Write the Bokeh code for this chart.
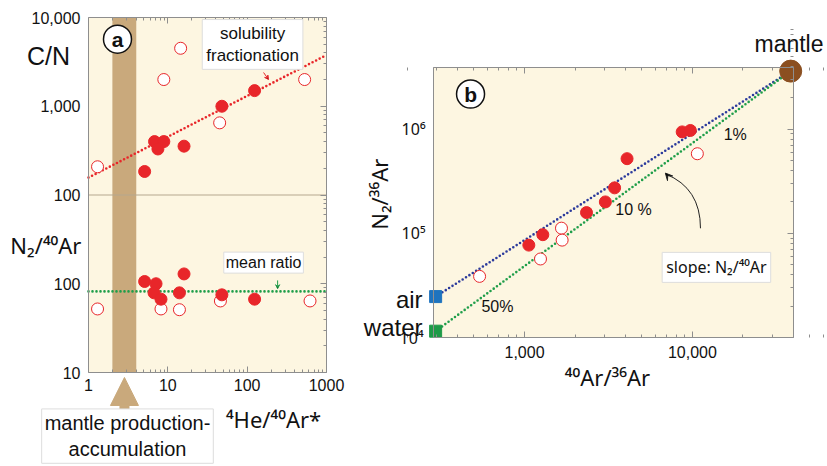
import math
from bokeh.plotting import figure
from bokeh.models import (Range1d, LogScale, LogAxis, FixedTicker, Label, Arrow,
                          NormalHead, VeeHead, BoxAnnotation)
from bokeh.layouts import row
from bokeh.embed import file_html
from bokeh.resources import INLINE

# ---------------- data: panel a ----------------
he_ar_cn_fill = [5.1, 6.8, 8.9, 7.5, 16, 48, 124]
cn_fill = [184, 400, 400, 330, 355, 1000, 1500]
he_ar_cn_open = [1.3, 14.5, 8.9, 45, 530]
cn_open = [208, 4500, 2000, 650, 2000]

he_ar_n2_fill = [5.1, 7.1, 6.7, 8.2, 14, 16, 48, 124]
n2ar_fill = [106, 100, 79, 67, 79, 129, 75, 67]
he_ar_n2_open = [1.3, 8.2, 14, 46, 620]
n2ar_open = [52, 52, 51, 64, 64]

fit_x = [1, 1000]
fit_cn = [157, 3770]
mean_x = [1, 1000]
mean_ratio = [82, 82]
mantle_band = [2, 4]

a_xlim = [1, 1000]
a_ylim = [10, 100000]          # N2/40Ar scale (lower half), C/N is 10x lower
a_xticks = [1, 10, 100, 1000]
a_xlabels = ["1", "10", "100", "1000"]
a_yticks = [10, 100, 1000, 10000, 100000]
a_ylabels = ["10", "100", "100", "1,000", "10,000"]

# ---------------- data: panel b ----------------
ar_fill = [8690, 9720, 4080, 3440, 3030, 2340, 1285, 1061]
n2_fill = [9.4e5, 9.7e5, 5.2e5, 2.73e5, 2.0e5, 1.58e5, 9.7e4, 7.7e4]
ar_open = [10700, 1660, 1675, 1245, 540]
n2_open = [5.8e5, 1.12e5, 8.6e4, 5.67e4, 3.86e4]
air = (295.5, 24700)
water = (295.5, 11500)
mantle = (38500, 3.6e6)

b_xlim = [287, 40000]
b_ylim = [10000, 3.9e6]
b_xticks = [1000, 10000]
b_xlabels = ["1,000", "10,000"]
b_yticks = [100000, 1000000]
b_ylabels = ["10\u2075", "10\u2076"]
b_ybottom_tick = [10000]
b_ybottom_label = ["10\u2074"]

FONT = "Liberation Sans"
SFONT = "Noto Sans"     # for texts with super/subscripts
BG = "#FDF6E1"
GRAY = "#8E8E8E"
RED = "#E8262A"
TAN = "#C9A97C"
GREEN = "#1F9E4A"
BLUE = "#2B3A9C"
BROWN = "#8B4F20"
H = 466


def extrap(p0, v0, p1, v1, p):
    b = (math.log10(v1) - math.log10(v0)) / (p1 - p0)
    return 10 ** (math.log10(v0) + b * (p - p0))


def lab(p, x, y, text, size, align="center", baseline="middle", rng="default",
        color="#111111", style="normal", font=FONT, **kw):
    p.add_layout(Label(x=x, y=y, text=text, text_font=font, text_font_size=f"{size}px",
                       text_align=align, text_baseline=baseline, y_range_name=rng,
                       text_color=color, text_font_style=style, **kw))


def add_axis(p, side, loc, bounds, ticks, minor, labels=None, tin=6, min_in=3,
             standoff=8, size=16, font=FONT, baseline=None):
    ax = LogAxis(ticker=FixedTicker(ticks=ticks, minor_ticks=minor), fixed_location=loc,
                 bounds=bounds)
    ax.axis_line_color = GRAY
    ax.major_tick_line_color = GRAY
    ax.minor_tick_line_color = GRAY
    ax.major_tick_in = tin
    ax.major_tick_out = 0
    ax.minor_tick_in = min_in
    ax.minor_tick_out = 0
    if labels is not None:
        ax.major_label_overrides = {t: s for t, s in zip(ticks, labels)}
        ax.major_label_text_font = font
        ax.major_label_text_font_size = f"{size}px"
        ax.major_label_text_color = "#111111"
        ax.major_label_standoff = standoff
        if baseline:
            ax.major_label_text_baseline = baseline
    else:
        ax.major_label_text_alpha = 0
        ax.major_label_text_font_size = "1px"
    p.add_layout(ax, side)
    return ax


def minors(e0, e1):
    return [m * 10 ** e for e in range(e0, e1) for m in range(2, 10)]


def base_fig(w, xr, yr):
    p = figure(width=w, height=H, x_axis_type="log", y_axis_type="log",
               x_axis_location=None, y_axis_location=None,
               x_range=Range1d(*xr), y_range=Range1d(*yr),
               output_backend="svg", toolbar_location=None,
               min_border=0, background_fill_color="white", border_fill_color="white")
    p.grid.visible = False
    p.outline_line_color = None
    return p


dot = dict(line_dash="0 4", line_cap="round", line_width=2.6)

# ================= panel a =================
WA = 350
AX0, AX1, AY0, AY1 = 88, 326, 372, 17          # frame edges in pixels
xr_a = (extrap(AX0, a_xlim[0], AX1, a_xlim[1], 0), extrap(AX0, a_xlim[0], AX1, a_xlim[1], WA))
yr_a = (extrap(AY0, a_ylim[0], AY1, a_ylim[1], H), extrap(AY0, a_ylim[0], AY1, a_ylim[1], 0))
pa = base_fig(WA, xr_a, yr_a)
pa.extra_y_ranges = {"cn": Range1d(yr_a[0] / 10, yr_a[1] / 10)}
pa.extra_y_scales = {"cn": LogScale()}

pa.add_layout(BoxAnnotation(left=a_xlim[0], right=a_xlim[1], bottom=a_ylim[0], top=a_ylim[1],
                            fill_color=BG, fill_alpha=1, line_color=None, level="underlay"))
pa.add_layout(BoxAnnotation(left=mantle_band[0], right=mantle_band[1], bottom=a_ylim[0],
                            top=a_ylim[1], fill_color=TAN, fill_alpha=1, line_color=None,
                            level="underlay"))
pa.line(a_xlim, [1000, 1000], line_color="#B5A78E", line_width=1)

add_axis(pa, "below", a_ylim[0], a_xlim, a_xticks, minors(0, 3), a_xlabels, standoff=6)
add_axis(pa, "above", a_ylim[1], a_xlim, a_xticks, minors(0, 3))
add_axis(pa, "left", a_xlim[0], a_ylim, a_yticks, [], a_ylabels, tin=0, min_in=0)
add_axis(pa, "right", a_xlim[1], a_ylim, a_yticks, minors(1, 5))

pa.line(fit_x, fit_cn, y_range_name="cn", line_color=RED, **dot)
pa.line(mean_x, mean_ratio, line_color=GREEN, **dot)

pa.scatter(he_ar_cn_open, cn_open, y_range_name="cn", size=12, fill_color="white",
           line_color=RED, line_width=1)
pa.scatter(he_ar_n2_open, n2ar_open, size=12, fill_color="white", line_color=RED, line_width=1)
pa.scatter(he_ar_cn_fill, cn_fill, y_range_name="cn", size=12, fill_color=RED, line_color=RED)
pa.scatter(he_ar_n2_fill, n2ar_fill, size=12, fill_color=RED, line_color=RED)

pa.scatter([2.32], [57000], size=28, fill_color="white", line_color="#111111", line_width=1.5)
lab(pa, 2.32, 57000, "a", 21, style="bold")

lab(pa, 117, 49700, "solubility\nfractionation", 17, background_fill_color="white",
    border_line_color="#DDDDDD", padding=4)
pa.add_layout(Arrow(end=VeeHead(size=4, line_color=RED, line_width=1), x_start=161, y_start=24000,
                    x_end=186, y_end=20000, line_color=RED, line_width=1))
lab(pa, 161, 173, "mean ratio", 16, background_fill_color="white",
    border_line_color="#DDDDDD", padding=2)
pa.add_layout(Arrow(end=VeeHead(size=4, line_color=GREEN, line_width=1), x_start=242, y_start=109,
                    x_end=242, y_end=88, line_color=GREEN, line_width=1))

lab(pa, 0.313, 37300, "C/N", 25)
lab(pa, 0.29, 270, "N\u2082/\u2074\u2070Ar", 22, font=SFONT)
lab(pa, 215, 3.03, "\u2074He/\u2074\u2070Ar*", 22, font=SFONT)

pa.add_layout(Arrow(end=NormalHead(size=28, fill_color=TAN, line_color=TAN), x_start=2.84,
                    y_start=2.2, x_end=2.84, y_end=8.79, line_color=TAN, line_width=10))
lab(pa, 3.1, 1.92, "mantle production-\naccumulation", 20, background_fill_color="white",
    border_line_color="#DDDDDD", padding=3)

# ================= panel b =================
WB = 477
BX0, BX1, BY0, BY1 = 83, 443, 337, 67
xr_b = (extrap(BX0, b_xlim[0], BX1, b_xlim[1], 0), extrap(BX0, b_xlim[0], BX1, b_xlim[1], WB))
yr_b = (extrap(BY0, b_ylim[0], BY1, b_ylim[1], H), extrap(BY0, b_ylim[0], BY1, b_ylim[1], 0))
pb = base_fig(WB, xr_b, yr_b)

pb.add_layout(BoxAnnotation(left=b_xlim[0], right=b_xlim[1], bottom=b_ylim[0], top=b_ylim[1],
                            fill_color=BG, fill_alpha=1, line_color=None, level="underlay"))
add_axis(pb, "below", b_ylim[0], b_xlim, b_xticks, minors(2, 5), b_xlabels, standoff=8)
add_axis(pb, "above", b_ylim[1], b_xlim, b_xticks, minors(2, 5))
add_axis(pb, "left", b_xlim[0], b_ylim, b_yticks, [], b_ylabels, tin=0, min_in=0, font=SFONT)
add_axis(pb, "left", b_xlim[0], b_ylim, b_ybottom_tick, [], b_ybottom_label, tin=0, min_in=0,
         font=SFONT, baseline="top", standoff=10)
add_axis(pb, "right", b_xlim[1], b_ylim, [10000] + b_yticks, minors(4, 7))

pb.line([air[0], mantle[0]], [air[1], mantle[1]], line_color=BLUE, **dot)
pb.line([water[0], mantle[0]], [water[1], mantle[1]], line_color=GREEN, **dot)

pb.scatter(ar_open, n2_open, size=12, fill_color="white", line_color=RED, line_width=1)
pb.scatter(ar_fill, n2_fill, size=12, fill_color=RED, line_color=RED)
pb.scatter([air[0]], [air[1]], marker="square", size=12, fill_color="#1E73BE", line_color="#1E73BE")
pb.scatter([water[0]], [water[1]], marker="square", size=12, fill_color="#1E9A48", line_color="#1E9A48")
pb.scatter([mantle[0]], [mantle[1]], size=22, fill_color=BROWN, line_color=BROWN)

pb.scatter([477], [2.17e6], size=28, fill_color="white", line_color="#111111", line_width=1.5)
lab(pb, 477, 2.17e6, "b", 21, style="bold")

lab(pb, extrap(BX0, b_xlim[0], BX1, b_xlim[1], 473), 6.56e6, "mantle", 23, align="right")
lab(pb, 247, 23200, "air", 24, align="right")
lab(pb, 247, 12600, "water", 24, align="right")
lab(pb, 18000, 8.95e5, "1%", 16)
lab(pb, 4460, 1.70e5, "10 %", 16)
lab(pb, 690, 19900, "50%", 16)
lab(pb, 13900, 47100, "slope: N\u2082/\u2074\u2070Ar", 16, font=SFONT,
    background_fill_color="white", border_line_color="#DDDDDD", padding=4)
lab(pb, 135, 2.37e5, "N\u2082/\u00B3\u2076Ar", 22, angle=1.5708, font=SFONT)
lab(pb, 3120, 4220, "\u2074\u2070Ar/\u00B3\u2076Ar", 22, font=SFONT)

pb.quadratic(x0=[11170], y0=[1.117e5], x1=[6950], y1=[3.7e5], cx=[11170], cy=[2.71e5],
             line_color="#222222", line_width=1)
pb.add_layout(Arrow(end=VeeHead(size=7, line_color="#222222", line_width=1), x_start=7150,
                    y_start=3.55e5, x_end=6900, y_end=3.78e5, line_color="#222222", line_width=1))

layout = row(pa, pb)
open("out.html", "w").write(file_html(layout, INLINE))
